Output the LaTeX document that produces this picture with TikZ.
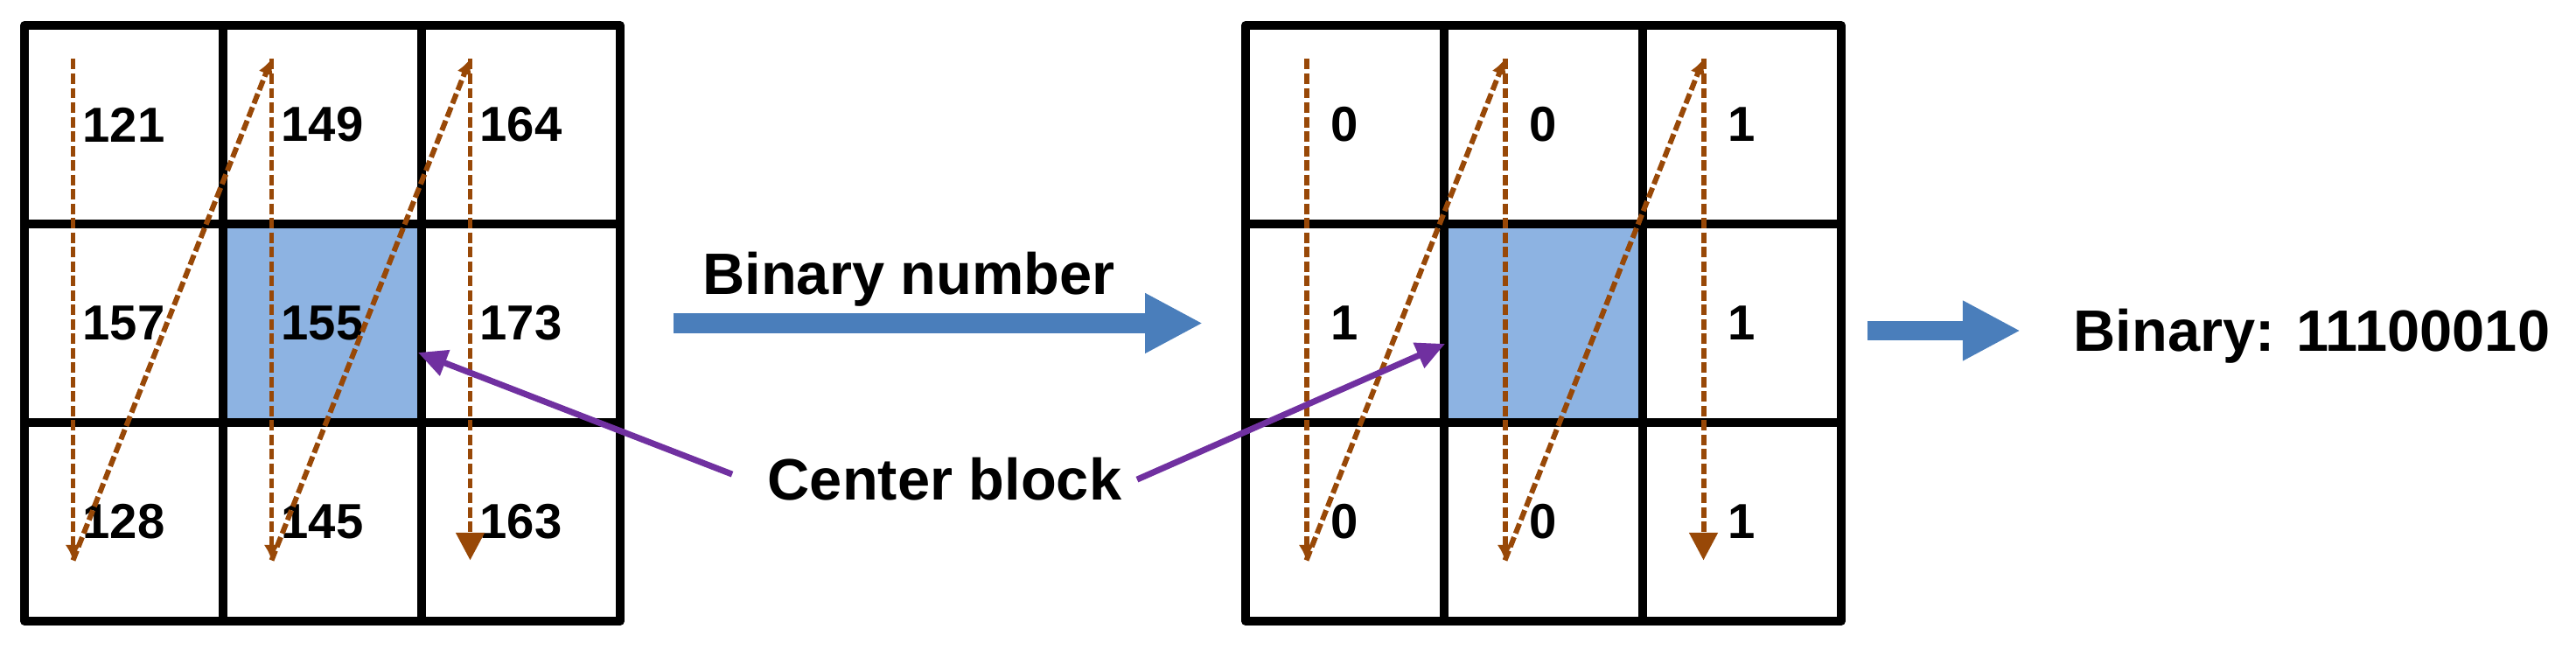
\documentclass[tikz,border=0pt]{standalone}
\usepackage{fontspec}
\setmainfont{Liberation Sans}
\usetikzlibrary{arrows.meta, positioning, calc}
\definecolor{cellblue}{HTML}{8DB3E2}
\definecolor{arrowblue}{HTML}{4A7EBB}
\definecolor{scanbrown}{HTML}{984807}
\definecolor{ptrpurple}{HTML}{7030A0}

\begin{document}
\begin{tikzpicture}[
  cell/.style={draw=black, line width=2.8pt, line join=round, minimum size=2.27cm,
    inner sep=0pt, font=\fontsize{16}{19}\selectfont\bfseries},
  centercell/.style={cell, fill=cellblue},
  scan/.style={draw=scanbrown, line width=1.7pt, dash pattern=on 3.4pt off 1.3pt,
    -{Latex[length=5pt, width=5pt]}},
  scanend/.style={scan, -{Triangle[length=9pt, width=9pt]}},
  bigarrow/.style={draw=arrowblue, line width=6.3pt, -{Triangle[length=0.66cm, width=0.64cm]}},
  pointer/.style={draw=ptrpurple, line width=2pt, -{Triangle[length=0.33cm, width=0.3cm]}},
  bigtext/.style={inner sep=0pt, font=\fontsize{19}{23}\selectfont\bfseries}
]
\useasboundingbox (0,0) rectangle (29.45,7.43);

% Left grid: pixel values
\foreach \val [count=\i from 0] in {121,149,164,157,155,173,128,145,163} {
  \pgfmathtruncatemacro\r{div(\i,3)+1}
  \pgfmathtruncatemacro\c{mod(\i,3)+1}
  \ifnum\i=4 \def\sty{centercell}\else\def\sty{cell}\fi
  \node[\sty] (L-\r-\c) at ({0.28+1.135+2.27*(\c-1)}, {7.14-1.135-2.27*(\r-1)}) {\val};
}

% Middle grid: thresholded bits, centre left empty
\foreach \val [count=\i from 0] in {0,0,1,1,{},1,0,0,1} {
  \pgfmathtruncatemacro\r{div(\i,3)+1}
  \pgfmathtruncatemacro\c{mod(\i,3)+1}
  \ifnum\i=4 \def\sty{centercell}\else\def\sty{cell}\fi
  \node[\sty] (M-\r-\c) at ({14.24+1.135+2.27*(\c-1)}, {7.14-1.135-2.27*(\r-1)}) {\val};
}

% Scan order, column by column
\foreach \g/\dx in {L/-0.58, M/-0.44} {
  \foreach \c in {1,2,3} {
    \coordinate (\g-top-\c) at ($(\g-1-\c.center)+(\dx,0.75)$);
    \coordinate (\g-bot-\c) at ($(\g-3-\c.center)+(\dx,-0.44)$);
  }
  \draw[scan] (\g-top-1) -- (\g-bot-1);
  \draw[scan] (\g-bot-1) -- (\g-top-2);
  \draw[scan] (\g-top-2) -- (\g-bot-2);
  \draw[scan] (\g-bot-2) -- (\g-top-3);
  \draw[scanend] (\g-top-3) -- (\g-bot-3);
}

% Block arrows
\coordinate[right=0.56cm of L-2-3.east] (bn-start);
\coordinate[left=0.44cm of M-2-1.west] (bn-end);
\draw[bigarrow] (bn-start) -- (bn-end);
\node[bigtext, anchor=base] (bnlabel) at (10.39,4.06) {Binary number};

\coordinate[below right=0.085cm and 0.25cm of M-2-3.east] (bin-start);
\coordinate[right=1.75cm of bin-start] (bin-end);
\draw[bigarrow] (bin-start) -- (bin-end);
\node[bigtext, anchor=base west] (bin) at ($(bin-end)+(0.60,-0.24)$) {Binary: 11100010};

% Centre block pointers
\node[bigtext, anchor=base] (cb) at (10.80,1.71) {Center block};
\draw[pointer] ([xshift=-0.4cm, yshift=0.06cm]cb.west) -- ($(L-2-2.east)+(-0.09,-0.335)$);
\draw[pointer] ([xshift=0.17cm]cb.east) -- ($(M-2-2.west)+(0.06,-0.235)$);

\end{tikzpicture}
\end{document}
